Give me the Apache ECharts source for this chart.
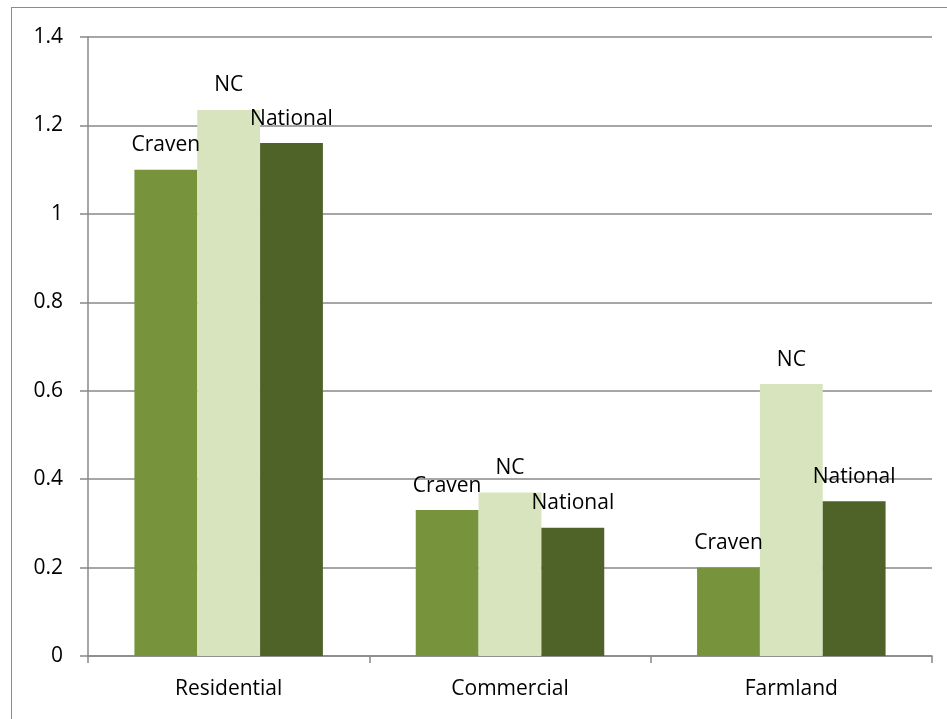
<!DOCTYPE html>
<html>
<head>
<meta charset="utf-8">
<script src="https://cdn.jsdelivr.net/npm/echarts@6/dist/echarts.min.js"></script>
<style>
  html, body { margin: 0; padding: 0; background: #fff; }
  #frame { position: absolute; left: 11px; top: 7px; width: 960px; height: 740px;
           border-left: 1px solid #8c8c8c; border-top: 1px solid #8c8c8c; }
  #chart { position: absolute; left: 0; top: 0; width: 947px; height: 719px; }
</style>
</head>
<body>
<div id="frame"></div>
<div id="chart"></div>
<script>
// data
var categories = ['Residential', 'Commercial', 'Farmland'];
var seriesNames = ['Craven', 'NC', 'National'];
var craven = [1.1, 0.33, 0.2];
var nc = [1.235, 0.37, 0.615];
var national = [1.16, 0.29, 0.35];
var yTicks = [0, 0.2, 0.4, 0.6, 0.8, 1, 1.2, 1.4];

var colors = ['#77933c', '#d7e4bd', '#4f6228'];
var font = 'Open Sans';
var fsize = 21;

function makeSeries(name, values, color) {
    return {
        type: 'bar',
        name: name,
        data: values,
        barGap: '0%',
        barCategoryGap: '33%',
        itemStyle: { color: color },
        label: {
            show: true,
            position: 'top',
            distance: 14,
            formatter: name,
            color: '#000',
            fontFamily: font,
            fontSize: fsize
        }
    };
}

var myChart = echarts.init(document.getElementById('chart'));
var option = {
    animation: false,
    backgroundColor: 'transparent',
    grid: { left: 88, right: 15, top: 37, bottom: 63 },
    xAxis: {
        type: 'category',
        data: categories,
        axisLine: { show: true, lineStyle: { color: '#888', width: 1.5 } },
        axisTick: { show: true, length: 7, lineStyle: { color: '#888', width: 1.5 } },
        axisLabel: { color: '#000', fontFamily: font, fontSize: fsize, margin: 23 }
    },
    yAxis: {
        type: 'value',
        min: yTicks[0],
        max: yTicks[yTicks.length - 1],
        interval: 0.2,
        axisLine: { show: true, lineStyle: { color: '#888', width: 1.5 } },
        axisTick: { show: true, length: 8, lineStyle: { color: '#888', width: 1.5 } },
        splitLine: { show: true, lineStyle: { color: '#888', width: 1.5 } },
        axisLabel: {
            color: '#000', fontFamily: font, fontSize: fsize, margin: 25,
            formatter: function (v) { return String(Math.round(v * 10) / 10); }
        }
    },
    series: [
        makeSeries(seriesNames[0], craven, colors[0]),
        makeSeries(seriesNames[1], nc, colors[1]),
        makeSeries(seriesNames[2], national, colors[2])
    ]
};
myChart.setOption(option);
window.addEventListener('resize', function () {
    myChart.resize();
});
</script>
</body>
</html>
